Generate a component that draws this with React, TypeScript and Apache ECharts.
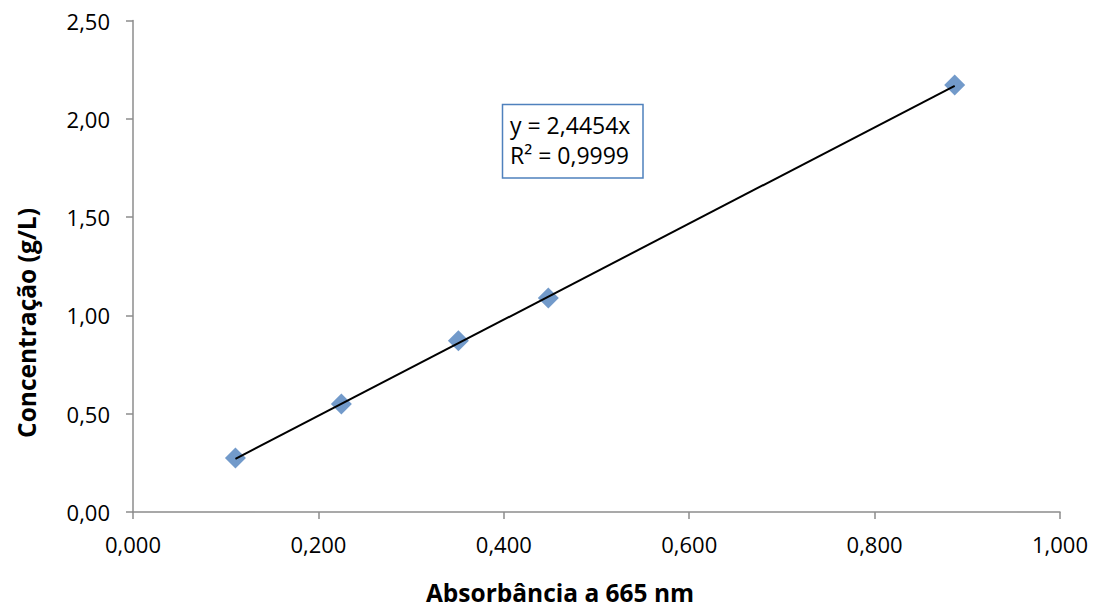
import React, { useEffect, useRef } from "react";
import * as echarts from "echarts";

const absorbance = [0.1105, 0.2248, 0.351, 0.448, 0.8864];
const concentration = [0.2745, 0.549, 0.871, 1.089, 2.172];
const slope = 2.4454;
const rSquared = "0,9999";
const xTitle = "Absorbância a 665 nm";
const yTitle = "Concentração (g/L)";

const FONT = "'Open Sans', sans-serif";
const fmt = (v: number, d: number) => v.toFixed(d).replace(".", ",");

export default function App() {
  const ref = useRef<HTMLDivElement>(null);
  useEffect(() => {
    if (!ref.current) return;
    const chart = echarts.init(ref.current, undefined, { renderer: "svg" });
    const pts = absorbance.map((x, i) => [x, concentration[i]]);
    const xmin = Math.min(...absorbance);
    const xmax = Math.max(...absorbance);
    const trend = [
      [xmin, slope * xmin],
      [xmax, slope * xmax],
    ];
    chart.setOption({
      animation: false,
      grid: { left: 133, right: 41, top: 20.5, bottom: 98 },
      xAxis: {
        type: "value",
        min: 0,
        max: 1,
        interval: 0.2,
        axisLine: { show: true, lineStyle: { color: "#8c8c8c", width: 1.5 } },
        axisTick: { show: true, length: 7, lineStyle: { color: "#8c8c8c", width: 1.5 } },
        axisLabel: { fontFamily: FONT, fontSize: 22, color: "#000", margin: 21, formatter: (v: number) => fmt(v, 3) },
        splitLine: { show: false },
      },
      yAxis: {
        type: "value",
        min: 0,
        max: 2.5,
        interval: 0.5,
        axisLine: { show: true, lineStyle: { color: "#8c8c8c", width: 1.5 } },
        axisTick: { show: true, length: 7, lineStyle: { color: "#8c8c8c", width: 1.5 } },
        axisLabel: { fontFamily: FONT, fontSize: 22, color: "#000", margin: 23, formatter: (v: number) => fmt(v, 2) },
        splitLine: { show: false },
      },
      series: [
        {
          type: "line",
          data: trend,
          symbol: "none",
          lineStyle: { color: "#000", width: 2 },
          z: 3,
        },
        {
          type: "scatter",
          data: pts,
          symbol: "diamond",
          symbolSize: 21,
          itemStyle: { color: "#4F81BD" },
          z: 2,
        },
      ],
      graphic: [
        {
          type: "rect",
          shape: { x: 502.5, y: 104.5, width: 140.5, height: 73.5 },
          style: { fill: "#fff", stroke: "#4F81BD", lineWidth: 1.5 },
        },
        {
          type: "text",
          x: 510,
          y: 110,
          style: {
            text: "y = " + fmt(slope, 4) + "x\nR² = " + rSquared,
            font: "23px " + FONT,
            fill: "#000",
            lineHeight: 30,
          },
        },
        {
          type: "text",
          x: 560,
          y: 592,
          style: {
            text: xTitle,
            font: "bold 24.5px " + FONT,
            fill: "#000",
            align: "center",
            verticalAlign: "middle",
          },
        },
        {
          type: "text",
          x: 26,
          y: 323,
          rotation: Math.PI / 2,
          style: {
            text: yTitle,
            font: "bold 24.5px " + FONT,
            fill: "#000",
            align: "center",
            verticalAlign: "middle",
          },
        },
      ],
    });
    return () => chart.dispose();
  }, []);
  return <div ref={ref} style={{ width: 1101, height: 610, position: "absolute", left: 0, top: 0 }} />;
}
